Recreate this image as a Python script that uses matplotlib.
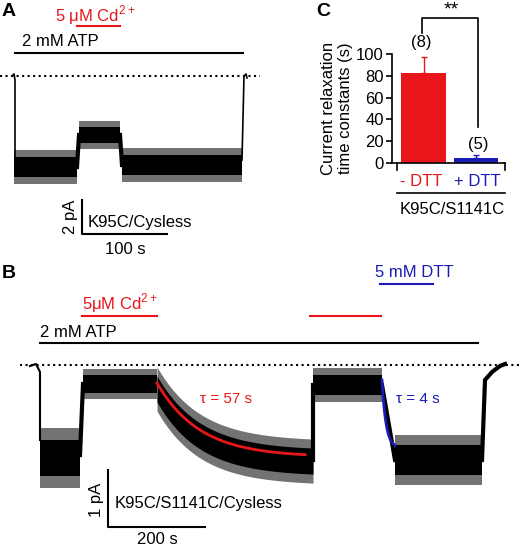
import numpy as np
import matplotlib
matplotlib.use("Agg")
import matplotlib.pyplot as plt
plt.rcParams['font.family'] = ['Liberation Sans', 'DejaVu Sans']
plt.rcParams['mathtext.fontset'] = 'custom'
plt.rcParams['mathtext.rm'] = 'Liberation Sans'

RED = "#e8161b"; BLUE = "#1a1ab4"

# Panel C data
conds = ["- DTT", "+ DTT"]
tau_means = [83, 5]
tau_errs = [14, 2]
ns = ["(8)", "(5)"]

# Panel A trace: segments (x0, x1, center, half-width) in figure px units
traceA = [(14, 77, 167, 17), (79, 120, 135, 14), (122, 242, 165, 17)]
# Panel B trace segments
traceB = [(40, 80, 458, 30), (83, 157, 384, 15), (313, 382, 385, 17), (395, 482, 460, 25)]
tau1 = 57; tau2 = 4

fig = plt.figure(figsize=(5.2, 5.47), dpi=100)
ax = fig.add_axes([0, 0, 1, 1])
ax.set_xlim(0, 520); ax.set_ylim(547, 0); ax.axis("off")

def band(x0, x1, c, h):
    x = np.array([x0, x1])
    ax.fill_between(x, c - h, c + h, color="black", lw=0, alpha=0.55)
    ax.fill_between(x, c - 0.6*h, c + 0.6*h, color="black", lw=0)

FS = 12
# ---- Panel A
ax.text(2, 12, "A", fontsize=14, fontweight="bold", va="center")
ax.plot([0, 260], [76, 76], ":", color="black", lw=1.5)
for s in traceA: band(*s)
ax.plot([12, 14, 15, 15], [76, 74, 80, 160], color="black", lw=1.2)
ax.plot([242, 244, 246, 247], [160, 76, 74, 78], color="black", lw=1.2)
ax.plot([77, 79], [167, 135], color="black", lw=3)
ax.plot([120, 122], [135, 165], color="black", lw=3)
ax.plot([15, 243], [53, 53], color="black", lw=1.5)
ax.text(22, 46, "2 mM ATP", fontsize=FS)
ax.plot([77, 120], [26, 26], color=RED, lw=1.5)
ax.text(55, 21, "5 μM Cd$^{2+}$", fontsize=FS, color=RED)
ax.plot([82, 82, 167], [200, 234, 234], color="black", lw=1.5)
ax.text(70, 217, "2 pA", fontsize=FS, rotation=90, ha="center", va="center")
ax.text(88, 227, "K95C/Cysless", fontsize=FS)
ax.text(105, 254, "100 s", fontsize=FS)

# ---- Panel B
ax.text(2, 273, "B", fontsize=14, fontweight="bold", va="center")
ax.plot([20, 520], [365, 365], ":", color="black", lw=1.5)
for s in traceB: band(*s)
ax.plot([30, 36, 40, 40], [366, 364, 372, 440], color="black", lw=1.5)
ax.plot([80, 83], [455, 384], color="black", lw=3)
t = np.linspace(157, 313, 100)
fitc = 457 - (457 - 383) * np.exp(-(t - 157) / (tau1 * 0.75))
ax.fill_between(t, fitc + 6 - 22, fitc + 6 + 22, color="black", lw=0, alpha=0.55)
ax.fill_between(t, fitc + 6 - 13, fitc + 6 + 13, color="black", lw=0)
ax.plot([313, 313], [460, 385], color="black", lw=3)
ax.plot([382, 395], [385, 460], color="black", lw=3)
ax.plot([482, 485, 492, 500, 505], [460, 380, 372, 366, 364], color="black", lw=3)
ax.plot(t[:95], fitc[:95], color=RED, lw=2)
tb = np.linspace(382, 395, 30)
ax.plot(tb, 448 - (448 - 380) * np.exp(-(tb - 382) / tau2), color=BLUE, lw=2)
ax.text(200, 403, "τ = 57 s", fontsize=11, color=RED)
ax.text(396, 403, "τ = 4 s", fontsize=11, color=BLUE)
ax.plot([40, 478], [343, 343], color="black", lw=1.5)
ax.text(40, 337, "2 mM ATP", fontsize=FS)
ax.plot([82, 157], [316, 316], color=RED, lw=1.5)
ax.text(82, 309, "5μM Cd$^{2+}$", fontsize=FS, color=RED)
ax.plot([310, 381], [316, 316], color=RED, lw=1.5)
ax.plot([380, 433], [284, 284], color=BLUE, lw=1.5)
ax.text(375, 277, "5 mM DTT", fontsize=FS, color=BLUE)
ax.plot([108, 108, 205], [470, 527, 527], color="black", lw=1.5)
ax.text(96, 500, "1 pA", fontsize=FS, rotation=90, ha="center", va="center")
ax.text(115, 508, "K95C/S1141C/Cysless", fontsize=FS)
ax.text(137, 539, "200 s", fontsize=FS, va="center")

# ---- Panel C
ax.text(316, 12, "C", fontsize=14, fontweight="bold", va="center")
axc = fig.add_axes([392/520, 1-163/547, 113/520, 109/547])
axc.patch.set_alpha(0)
x = np.arange(2)
cols = [RED, BLUE]
axc.bar(x, tau_means, width=0.85, color=cols)
for i in range(2):
    axc.errorbar(x[i], tau_means[i], yerr=[[0], [tau_errs[i]]], fmt="none", ecolor=cols[i], capsize=2, lw=1)
axc.set_xlim(-0.6, 1.55); axc.set_ylim(0, 100)
axc.set_yticks([0, 20, 40, 60, 80, 100])
axc.tick_params(labelsize=FS, length=4, width=1.2, pad=2)
axc.set_xticks([])
for sp in ["left", "bottom"]: axc.spines[sp].set_linewidth(1.2)
axc.spines["top"].set_visible(False); axc.spines["right"].set_visible(False)
axc.set_ylabel("Current relaxation\ntime constants (s)", fontsize=FS, labelpad=2)
for xi in [397, 505]:
    ax.plot([xi, xi], [163, 170], color="black", lw=1.2)
ax.text(421, 181, conds[0], fontsize=FS, ha="center", va="center", color=RED)
ax.text(477, 181, conds[1], fontsize=FS, ha="center", va="center", color=BLUE)
ax.text(421, 42, ns[0], fontsize=FS, ha="center", va="center")
ax.text(478, 145, ns[1], fontsize=FS, ha="center", va="center")
ax.plot([397, 505], [193, 193], color="black", lw=1.2)
ax.text(452, 210, "K95C/S1141C", fontsize=FS, ha="center", va="center")
ax.plot([422, 422, 478, 478], [33, 18, 18, 127], color="black", lw=1.2)
ax.text(451, 10, "**", fontsize=14, ha="center", va="center")

fig.savefig("out.png", dpi=100)
